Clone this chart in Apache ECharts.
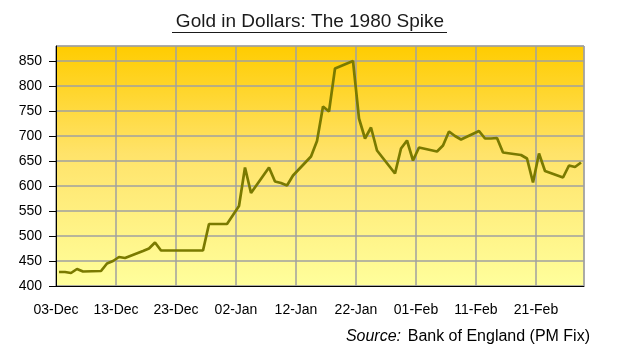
<!DOCTYPE html>
<html>
<head>
<meta charset="utf-8">
<script src="https://cdn.jsdelivr.net/npm/echarts@6/dist/echarts.min.js"></script>
<style>
html,body{margin:0;padding:0;background:#fff;}
#c{width:620px;height:358px;}
</style>
</head>
<body>
<div id="c"></div>
<script>
var titleText = 'Gold in Dollars: The 1980 Spike';
var sourceLabel = 'Source:';
var sourceText = 'Bank of England (PM Fix)';
var startDate = '1979-12-03';
var xTickLabels = ['03-Dec','13-Dec','23-Dec','02-Jan','12-Jan','22-Jan','01-Feb','11-Feb','21-Feb'];
var dates = [
 '1979-12-03','1979-12-04','1979-12-05','1979-12-06','1979-12-07',
 '1979-12-10','1979-12-11','1979-12-12','1979-12-13','1979-12-14',
 '1979-12-17','1979-12-18','1979-12-19','1979-12-20','1979-12-21',
 '1979-12-24','1979-12-27','1979-12-28','1979-12-31',
 '1980-01-02','1980-01-03','1980-01-04',
 '1980-01-07','1980-01-08','1980-01-09','1980-01-10','1980-01-11',
 '1980-01-14','1980-01-15','1980-01-16','1980-01-17','1980-01-18',
 '1980-01-21','1980-01-22','1980-01-23','1980-01-24','1980-01-25',
 '1980-01-28','1980-01-29','1980-01-30','1980-01-31','1980-02-01',
 '1980-02-04','1980-02-05','1980-02-06','1980-02-07','1980-02-08',
 '1980-02-11','1980-02-12','1980-02-13','1980-02-14','1980-02-15',
 '1980-02-18','1980-02-19','1980-02-20','1980-02-21','1980-02-22',
 '1980-02-25','1980-02-26','1980-02-27','1980-02-28'
];
var prices = [
 428,428,426,434,429,
 430,445,450,458,456,
 470,475,487,471,471,
 471,471,524,524,
 560,637,586,
 637,609,606,601,621,
 659,690,759,749,835,
 850,735,695,717,671,
 625,675,691,651,677,
 669,681,709,700,693,
 710,695,695,696,667,
 662,655,607,665,630,
 617,641,638,647
];

var DAY = 86400000;
var t0 = Date.parse(startDate);
var seriesData = dates.map(function(d, i){
  return [(Date.parse(d) - t0) / DAY + 0.5, prices[i]];
});

var chart = echarts.init(document.getElementById('c'), null, {renderer:'canvas'});
var FONT = '"Liberation Sans", Arial, sans-serif';
chart.setOption({
  animation: false,
  backgroundColor: '#ffffff',
  grid: {
    left: 56, right: 36, top: 46, bottom: 72,
    show: true,
    borderColor: '#9a9a9a',
    borderWidth: 1,
    backgroundColor: {
      type: 'linear', x: 0, y: 0, x2: 0, y2: 1,
      colorStops: [
        {offset: 0, color: '#FFCC00'},
        {offset: 0.45, color: '#FFE36A'},
        {offset: 1, color: '#FFFF9C'}
      ]
    }
  },
  xAxis: {
    type: 'value',
    min: 0, max: 88, interval: 10,
    axisLine: {show: true, lineStyle: {color: '#000', width: 1}},
    axisTick: {show: false},
    splitLine: {show: true, lineStyle: {color: '#a0a0a0', width: 1.5}},
    axisLabel: {
      show: true, margin: 17, color: '#000',
      fontFamily: FONT, fontSize: 14,
      showMaxLabel: false,
      formatter: function(v){
        var i = Math.round(v / 10);
        return xTickLabels[i] !== undefined ? xTickLabels[i] : '';
      }
    }
  },
  yAxis: {
    type: 'value',
    min: 400, max: 880, interval: 50,
    axisLine: {show: true, lineStyle: {color: '#000', width: 1}},
    axisTick: {show: true, inside: false, length: 7, lineStyle: {color: '#000'}},
    splitLine: {show: true, lineStyle: {color: '#a0a0a0', width: 1.5}},
    axisLabel: {
      show: true, margin: 14, color: '#000',
      fontFamily: FONT, fontSize: 14,
      showMaxLabel: false
    }
  },
  series: [{
    type: 'line',
    data: seriesData,
    showSymbol: false,
    symbol: 'none',
    lineStyle: {color: '#7a7a00', width: 2.7},
    z: 5
  }],
  graphic: [
    {
      type: 'text',
      left: 'center',
      top: 12,
      style: {
        text: titleText,
        font: '19px ' + FONT,
        fill: '#1a1a1a'
      }
    },
    {
      type: 'line',
      shape: {x1: 172, y1: 32.5, x2: 447, y2: 32.5},
      style: {stroke: '#1a1a1a', lineWidth: 1}
    },
    {
      type: 'text',
      right: 30,
      top: 329,
      style: {
        text: '{i|' + sourceLabel + '}  {n|' + sourceText + '}',
        rich: {
          i: {font: 'italic 16px ' + FONT, fill: '#000'},
          n: {font: '16px ' + FONT, fill: '#000'}
        }
      }
    }
  ]
});
</script>
</body>
</html>
